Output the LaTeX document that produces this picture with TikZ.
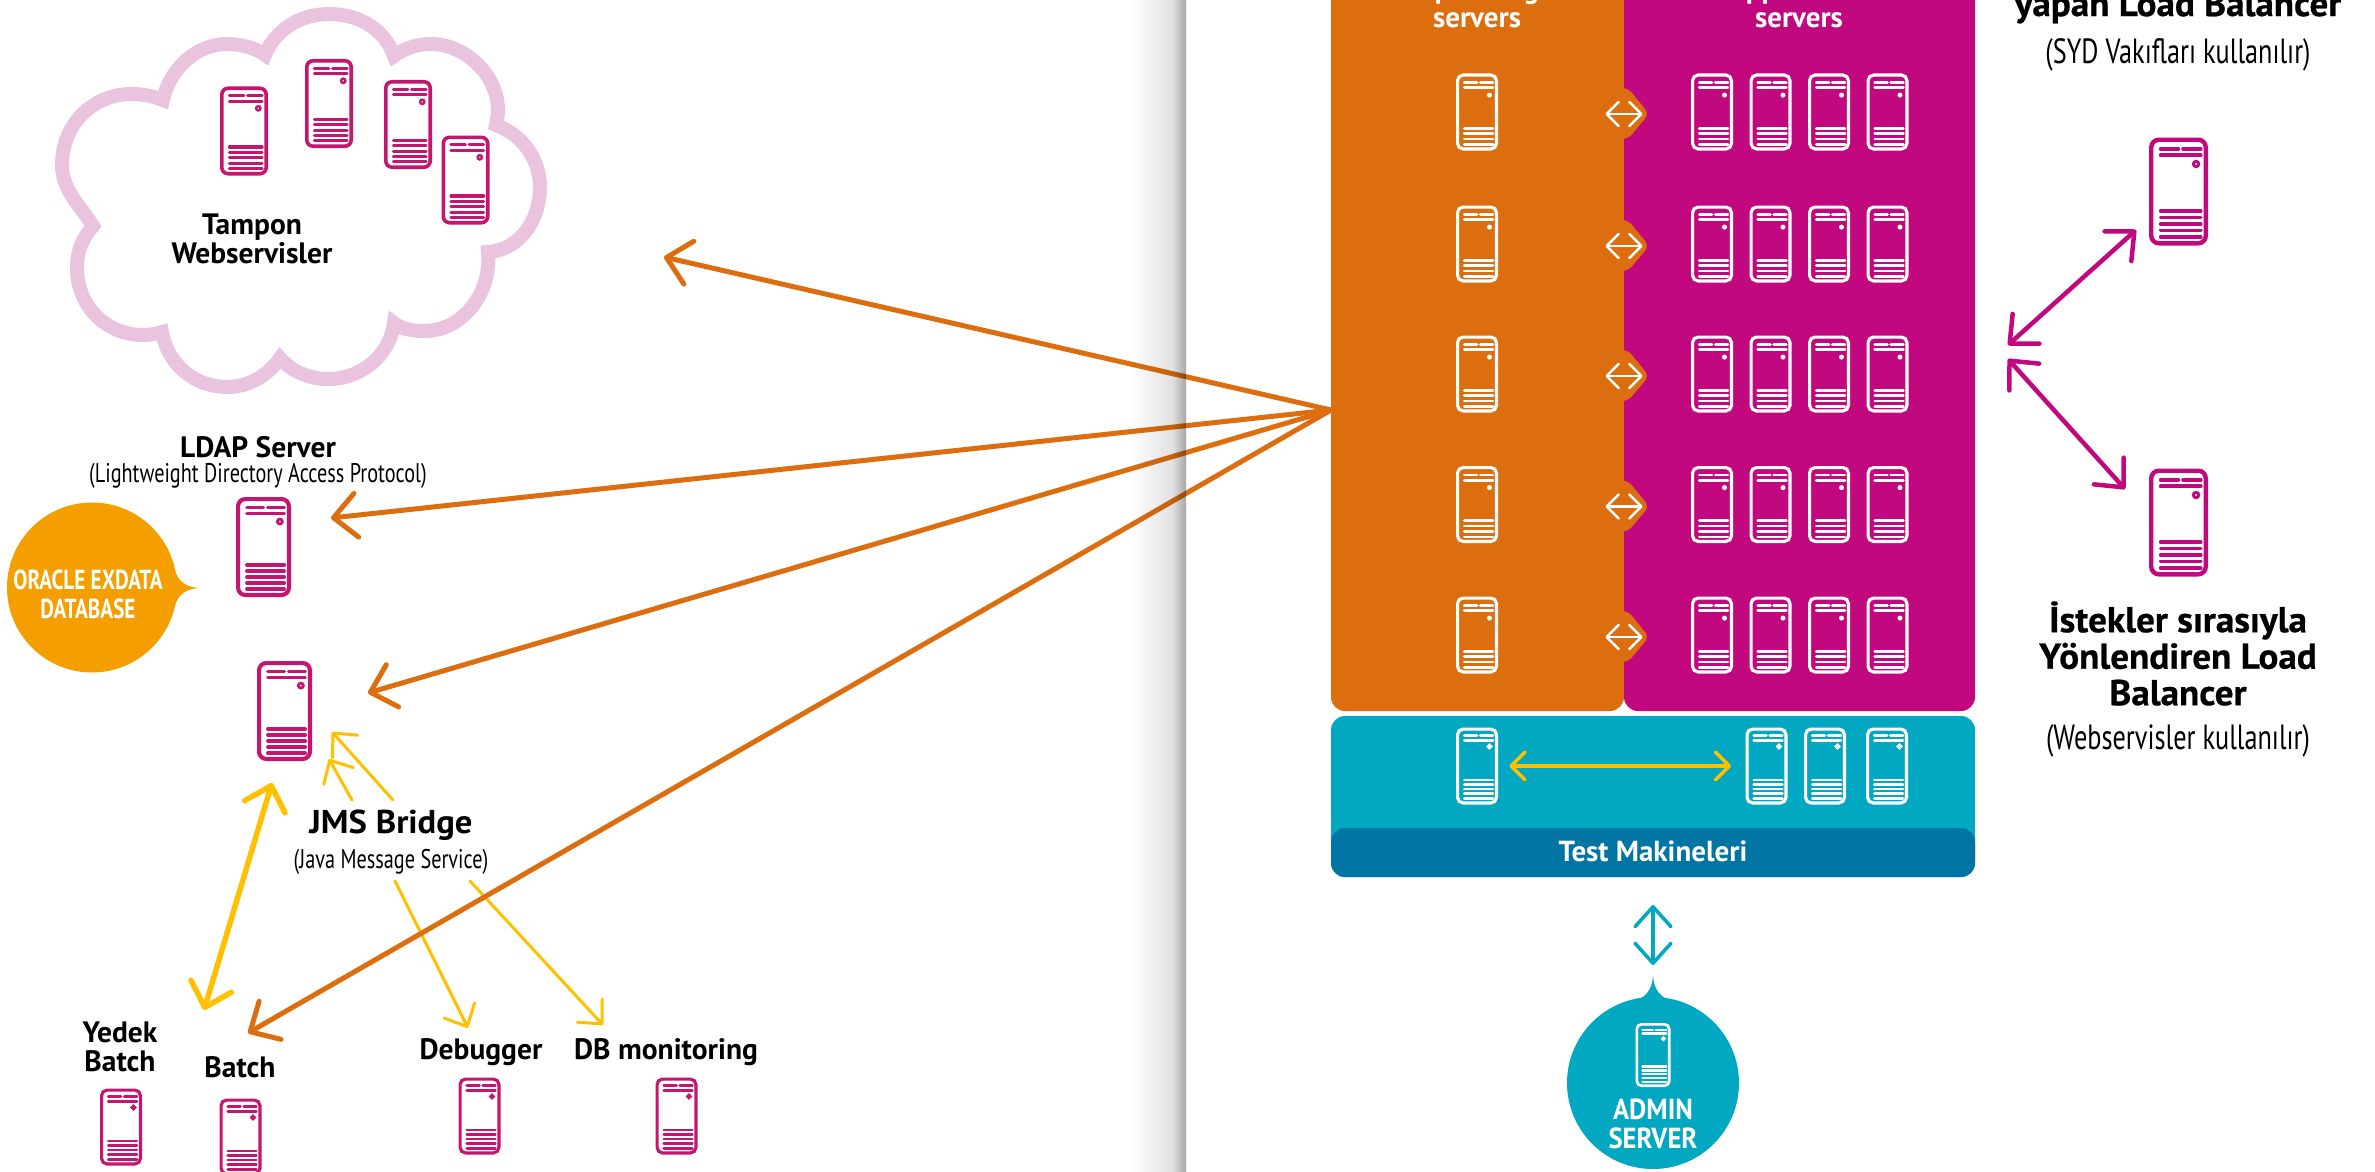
\documentclass[tikz,border=0pt]{standalone}
\usepackage{fontspec}
\usetikzlibrary{arrows.meta,shapes.geometric,calc}
\setmainfont{PT Sans}
\newfontfamily\bfn[FakeStretch=0.77]{PT Sans Bold}
\newfontfamily\bfa[FakeStretch=0.92]{PT Sans Bold}
\newfontfamily\bfm[FakeStretch=1.0]{PT Sans Bold}
\newfontfamily\bfw[FakeStretch=1.05]{PT Sans Bold}
\newfontfamily\bfx[FakeStretch=1.03,FakeBold=0.6]{PT Sans Bold}
\newfontfamily\rgc[FakeStretch=0.75]{PT Sans}
\definecolor{orng}{HTML}{DD6E0F}
\definecolor{mag}{HTML}{C1087E}
\definecolor{srvmag}{HTML}{C4156F}
\definecolor{pinkc}{HTML}{EAC4DF}
\definecolor{teal2}{HTML}{02A7C2}
\definecolor{dblue}{HTML}{0074A3}
\definecolor{ylw}{HTML}{FFC000}
\definecolor{bub}{HTML}{F59E00}
\definecolor{shadea}{HTML}{E2E2E2}
\definecolor{shadeb}{HTML}{A6A6A6}
\tikzset{
 srvbox/.style n args={3}{shape=rectangle,draw=#1,inner sep=0pt,outer sep=0pt,
   line width=#2*0.075pt,rounded corners=#2*0.13pt,
   minimum width=#2*0.925pt,minimum height=(#3-#2*0.075)*1pt},
 lblb/.style={font=\bfm\fontsize{29.5}{29.5}\selectfont,inner sep=0pt,align=center,text=black},
 lblbig/.style={font=\bfw\fontsize{33}{36.5}\selectfont,inner sep=0pt,align=center,text=black},
 lblx/.style={font=\bfx\fontsize{36}{36.5}\selectfont,inner sep=0pt,align=center,text=black},
 lblr/.style={font=\rgc\fontsize{27}{29}\selectfont,inner sep=0pt,align=center,text=black},
 lblrb/.style={font=\rgc\fontsize{35}{36}\selectfont,inner sep=0pt,align=center,text=black},
 lblw/.style={font=\bfm\fontsize{29}{29}\selectfont,inner sep=0pt,align=center,text=white},
 panel/.style={shape=rectangle,inner sep=0pt,outer sep=0pt,rounded corners=14pt},
 oarrow/.style={draw=orng,line width=5pt,line cap=round,-{Straight Barb[length=23pt,width=44pt,round]}},
 marrow/.style={draw=mag,line width=4.5pt,line cap=round,{Straight Barb[length=22pt,width=40pt,round]}-{Straight Barb[length=22pt,width=40pt,round]}},
 yarrow/.style={draw=ylw,line width=3pt,line cap=round,-{Straight Barb[length=18pt,width=34pt,round]}},
 yybig/.style={draw=ylw,line width=5.5pt,line cap=round,{Straight Barb[length=22pt,width=42pt,round]}-{Straight Barb[length=22pt,width=42pt,round]}},
 warrow/.style={draw=white,line width=2.5pt,line cap=round,{Straight Barb[length=12pt,width=24pt,round]}-{Straight Barb[length=12pt,width=24pt,round]}},
}
% name, colour, width, height, x, y : icon with five lower bars
\newcommand\srvnode[6]{%
  \node[srvbox={#2}{#3}{#4}] (#1) at (#5,#6) {};
  \begin{scope}[shift={(#1.north west)},x=#3pt,y=-#4pt,#2,line cap=round,line width=#4*0.035pt]
    \draw (.16,.085)--(.46,.085) (.54,.085)--(.84,.085) (.16,.145)--(.84,.145);
    \draw[line width=#3*0.05pt] (.76,.225) circle [radius=#3*0.045pt];
    \foreach \yy in {.66,.72,.78,.84,.90}{\draw (.16,\yy)--(.84,\yy);}
  \end{scope}
}
% same icon with four lower bars, as in the orange and magenta panels
\newcommand\srvfour[6]{%
  \node[srvbox={#2}{#3}{#4}] (#1) at (#5,#6) {};
  \begin{scope}[shift={(#1.north west)},x=#3pt,y=-#4pt,#2,line cap=round,line width=#4*0.035pt]
    \draw (.16,.095)--(.46,.095) (.54,.095)--(.84,.095) (.16,.165)--(.84,.165);
    \fill (.76,.26) circle [radius=#3*0.06pt];
    \foreach \yy in {.69,.76,.83,.90}{\draw (.16,\yy)--(.84,\yy);}
  \end{scope}
}
\begin{document}
\begin{tikzpicture}[x=1pt,y=-1pt]
\useasboundingbox (0,0) rectangle (2375,1172);
\clip (0,0) rectangle (2375,1172);
\fill[white] (0,0) rectangle (2375,1172);
% cloud
\draw[draw=pinkc,fill=white,line width=14pt,line join=miter]
 (163,100) .. controls (170,68) and (197,44) .. (227,44)
 .. controls (243,44) and (257,49) .. (265,55)
 .. controls (275,30) and (300,14) .. (329,14)
 .. controls (360,14) and (385,30) .. (394,56)
 .. controls (405,48) and (418,44) .. (431,44)
 .. controls (465,44) and (498,75) .. (498,110)
 .. controls (498,115) and (497,120) .. (496,125)
 .. controls (523,135) and (540,160) .. (540,187)
 .. controls (540,220) and (520,250) .. (488,252)
 .. controls (492,290) and (465,331) .. (424,331)
 .. controls (410,331) and (400,328) .. (394,323)
 .. controls (390,355) and (362,379) .. (328,379)
 .. controls (310,379) and (292,372) .. (280,358)
 .. controls (268,375) and (250,387) .. (227,387)
 .. controls (195,387) and (168,365) .. (162,332)
 .. controls (155,334) and (150,335) .. (143,335)
 .. controls (105,335) and (77,305) .. (77,268)
 .. controls (77,250) and (83,238) .. (93,226)
 .. controls (80,205) and (62,190) .. (62,165)
 .. controls (62,125) and (92,94) .. (132,94)
 .. controls (145,94) and (155,97) .. (163,100) -- cycle;
\srvnode{cl1}{srvmag}{48}{89}{244}{131}
\srvnode{cl2}{srvmag}{48}{89}{329}{103.5}
\srvnode{cl3}{srvmag}{48}{89}{408}{124.5}
\srvnode{cl4}{srvmag}{48}{89}{465.5}{180}
\node[lblb] (tampon) at (252,239) {Tampon\\Webservisler};
% left servers
\node[lblb] (ldaplbl) at (258,447) {LDAP Server};
\node[lblr] (ldapsub) at (258,476) {(Lightweight Directory Access Protocol)};
\srvnode{ldap}{srvmag}{55}{100}{263.5}{547}
\srvnode{jms}{srvmag}{55}{100}{284.5}{711}
\node[lblbig] (jmslbl) at (391,825) {JMS Bridge};
\node[lblr] (jmssub) at (391,862) {(Java Message Service)};
\node[lblb] (yedeklbl) at (120,1047) {Yedek\\Batch};
\node[lblb] (batchlbl) at (240,1067) {Batch};
\node[lblb] (dbglbl) at (481,1052) {Debugger};
\node[lblb] (dbmlbl) at (666,1052) {DB monitoring};
\srvnode{yedek}{srvmag}{42}{77}{121}{1127}
\srvnode{batch}{srvmag}{42}{77}{240.5}{1137}
\srvnode{dbg}{srvmag}{42}{77}{479.5}{1116}
\srvnode{dbm}{srvmag}{42}{77}{676.5}{1116}
% bubble
\fill[bub] (174,568) .. controls (178,582) and (186,587) .. (199,588) .. controls (186,589) and (178,594) .. (174,608) -- cycle;
\node[circle,fill=bub,inner sep=0pt,minimum size=170pt] (oracle) at (92,587.5) {};
\node[lblw,font=\bfn\fontsize{27.5}{29}\selectfont] (oracletxt) at (88,594) {ORACLE EXDATA\\DATABASE};
% panels
\node[panel,fill=orng,minimum width=293pt,minimum height=771pt] (orpanel) at (1477.5,325.5) {};
\node[panel,fill=mag,minimum width=351pt,minimum height=771pt] (mapanel) at (1799.5,325.5) {};
\node[panel,fill=teal2,minimum width=644pt,minimum height=161pt] (tepanel) at (1653,796.5) {};
\node[panel,fill=dblue,minimum width=644pt,minimum height=49pt] (testrip) at (1653,852.5) {};
\node[lblw] (testlbl) at (1653,851) {Test Makineleri};
\node[lblw] (optxt) at (1477,3) {Operating\\servers};
\node[lblw] (aptxt) at (1799,3) {Application\\servers};
% rows
\foreach \i/\yy in {1/112,2/244,3/374,4/504.5,5/635}{
  \fill[orng,rounded corners=6pt] (1615,\yy-24) -- (1628,\yy-24) -- (1649,\yy+2) -- (1628,\yy+27) -- (1615,\yy+27) -- cycle;
  \srvfour{o\i}{white}{42}{77}{1477}{\yy}
  \srvfour{ma\i}{white}{42}{77}{1712}{\yy}
  \srvfour{mb\i}{white}{42}{77}{1770.5}{\yy}
  \srvfour{mc\i}{white}{42}{77}{1829}{\yy}
  \srvfour{md\i}{white}{42}{77}{1887.5}{\yy}
  \draw[warrow,shorten <=109pt,shorten >=50pt] ($(o\i.east)+(0,2)$) -- ($(ma\i.west)+(0,2)$);
}
% test row
\srvnode{t0}{white}{42}{77}{1477}{766}
\srvnode{t1}{white}{42}{77}{1766.5}{766}
\srvnode{t2}{white}{42}{77}{1825}{766}
\srvnode{t3}{white}{42}{77}{1887}{766}
\draw[draw=ylw,line width=3.5pt,line cap=round,{Straight Barb[length=14pt,width=28pt,round]}-{Straight Barb[length=14pt,width=28pt,round]},shorten <=13pt,shorten >=16pt] (t0.east) -- (t1.west);
% admin
\fill[teal2] (1653,976) .. controls (1654,990) and (1660,998) .. (1676,1003) -- (1630,1003) .. controls (1646,998) and (1652,990) .. cycle;
\node[circle,fill=teal2,inner sep=0pt,minimum size=172pt] (admin) at (1653,1083) {};
\srvnode{adminsrv}{white}{35}{64}{1653}{1055}
\node[lblw,font=\bfa\fontsize{29}{29}\selectfont] (admintxt) at (1653,1123.5) {ADMIN\\SERVER};
\coordinate (tetop) at (1653,905);
\coordinate (adtop) at (1653,965);
\draw[draw=teal2,line width=3.5pt,line cap=round,{Straight Barb[length=20pt,width=36pt,round]}-{Straight Barb[length=20pt,width=36pt,round]}] (tetop) -- (adtop);
% right side
\node[lblx] (yaptxt) at (2178,7) {yapan Load Balancer};
\node[lblrb] (sydtxt) at (2178,55) {(SYD Vakıfları kullanılır)};
\srvnode{lb1}{mag}{59}{108}{2178.5}{191.5}
\srvnode{lb2}{mag}{59}{108}{2178.5}{522.5}
\node[lblx] (istxt) at (2178,653.5) {İstekler sırasıyla\\Yönlendiren Load\\Balancer};
\node[lblrb] (webtxt) at (2178,741) {(Webservisler kullanılır)};
\coordinate (lbs1) at (2008,345);
\coordinate (lbs2) at (2008,359);
\coordinate (lbt1) at (2136,230);
\coordinate (lbt2) at (2125,489);
\draw[marrow] (lbs1) -- (lbt1);
\draw[marrow] (lbs2) -- (lbt2);
% jms arrows
\coordinate (ja) at (393,800); \coordinate (jat) at (332,732);
\coordinate (jb) at (352,800); \coordinate (jbt) at (329,759);
\coordinate (jc) at (395,881); \coordinate (jct) at (468,1028);
\coordinate (jd) at (470,881); \coordinate (jdt) at (603,1025);
\draw[yarrow] (ja) -- (jat);
\draw[yarrow] (jb) -- (jbt);
\draw[yarrow] (jc) -- (jct);
\draw[yarrow] (jd) -- (jdt);
\coordinate (yb1) at (272,783); \coordinate (yb2) at (204,1010);
\draw[yybig] (yb1) -- (yb2);
% orange arrows
\coordinate (hub) at (1331,410);
\coordinate (tcloud) at (664,257);
\coordinate (tldap) at (331,518);
\coordinate (tjms) at (368,693);
\coordinate (tbatch) at (248,1033);
\draw[oarrow] (hub) -- (tcloud);
\draw[oarrow] (hub) -- (tldap);
\draw[oarrow] (hub) -- (tjms);
\draw[oarrow] (hub) -- (tbatch);
% page-fold shadow
\begin{scope}[blend mode=multiply]
\shade[left color=white,right color=shadea] (1130,0) rectangle (1172,1172);
\shade[left color=shadea,right color=shadeb] (1172,0) rectangle (1186,1172);
\end{scope}
\end{tikzpicture}
\end{document}
